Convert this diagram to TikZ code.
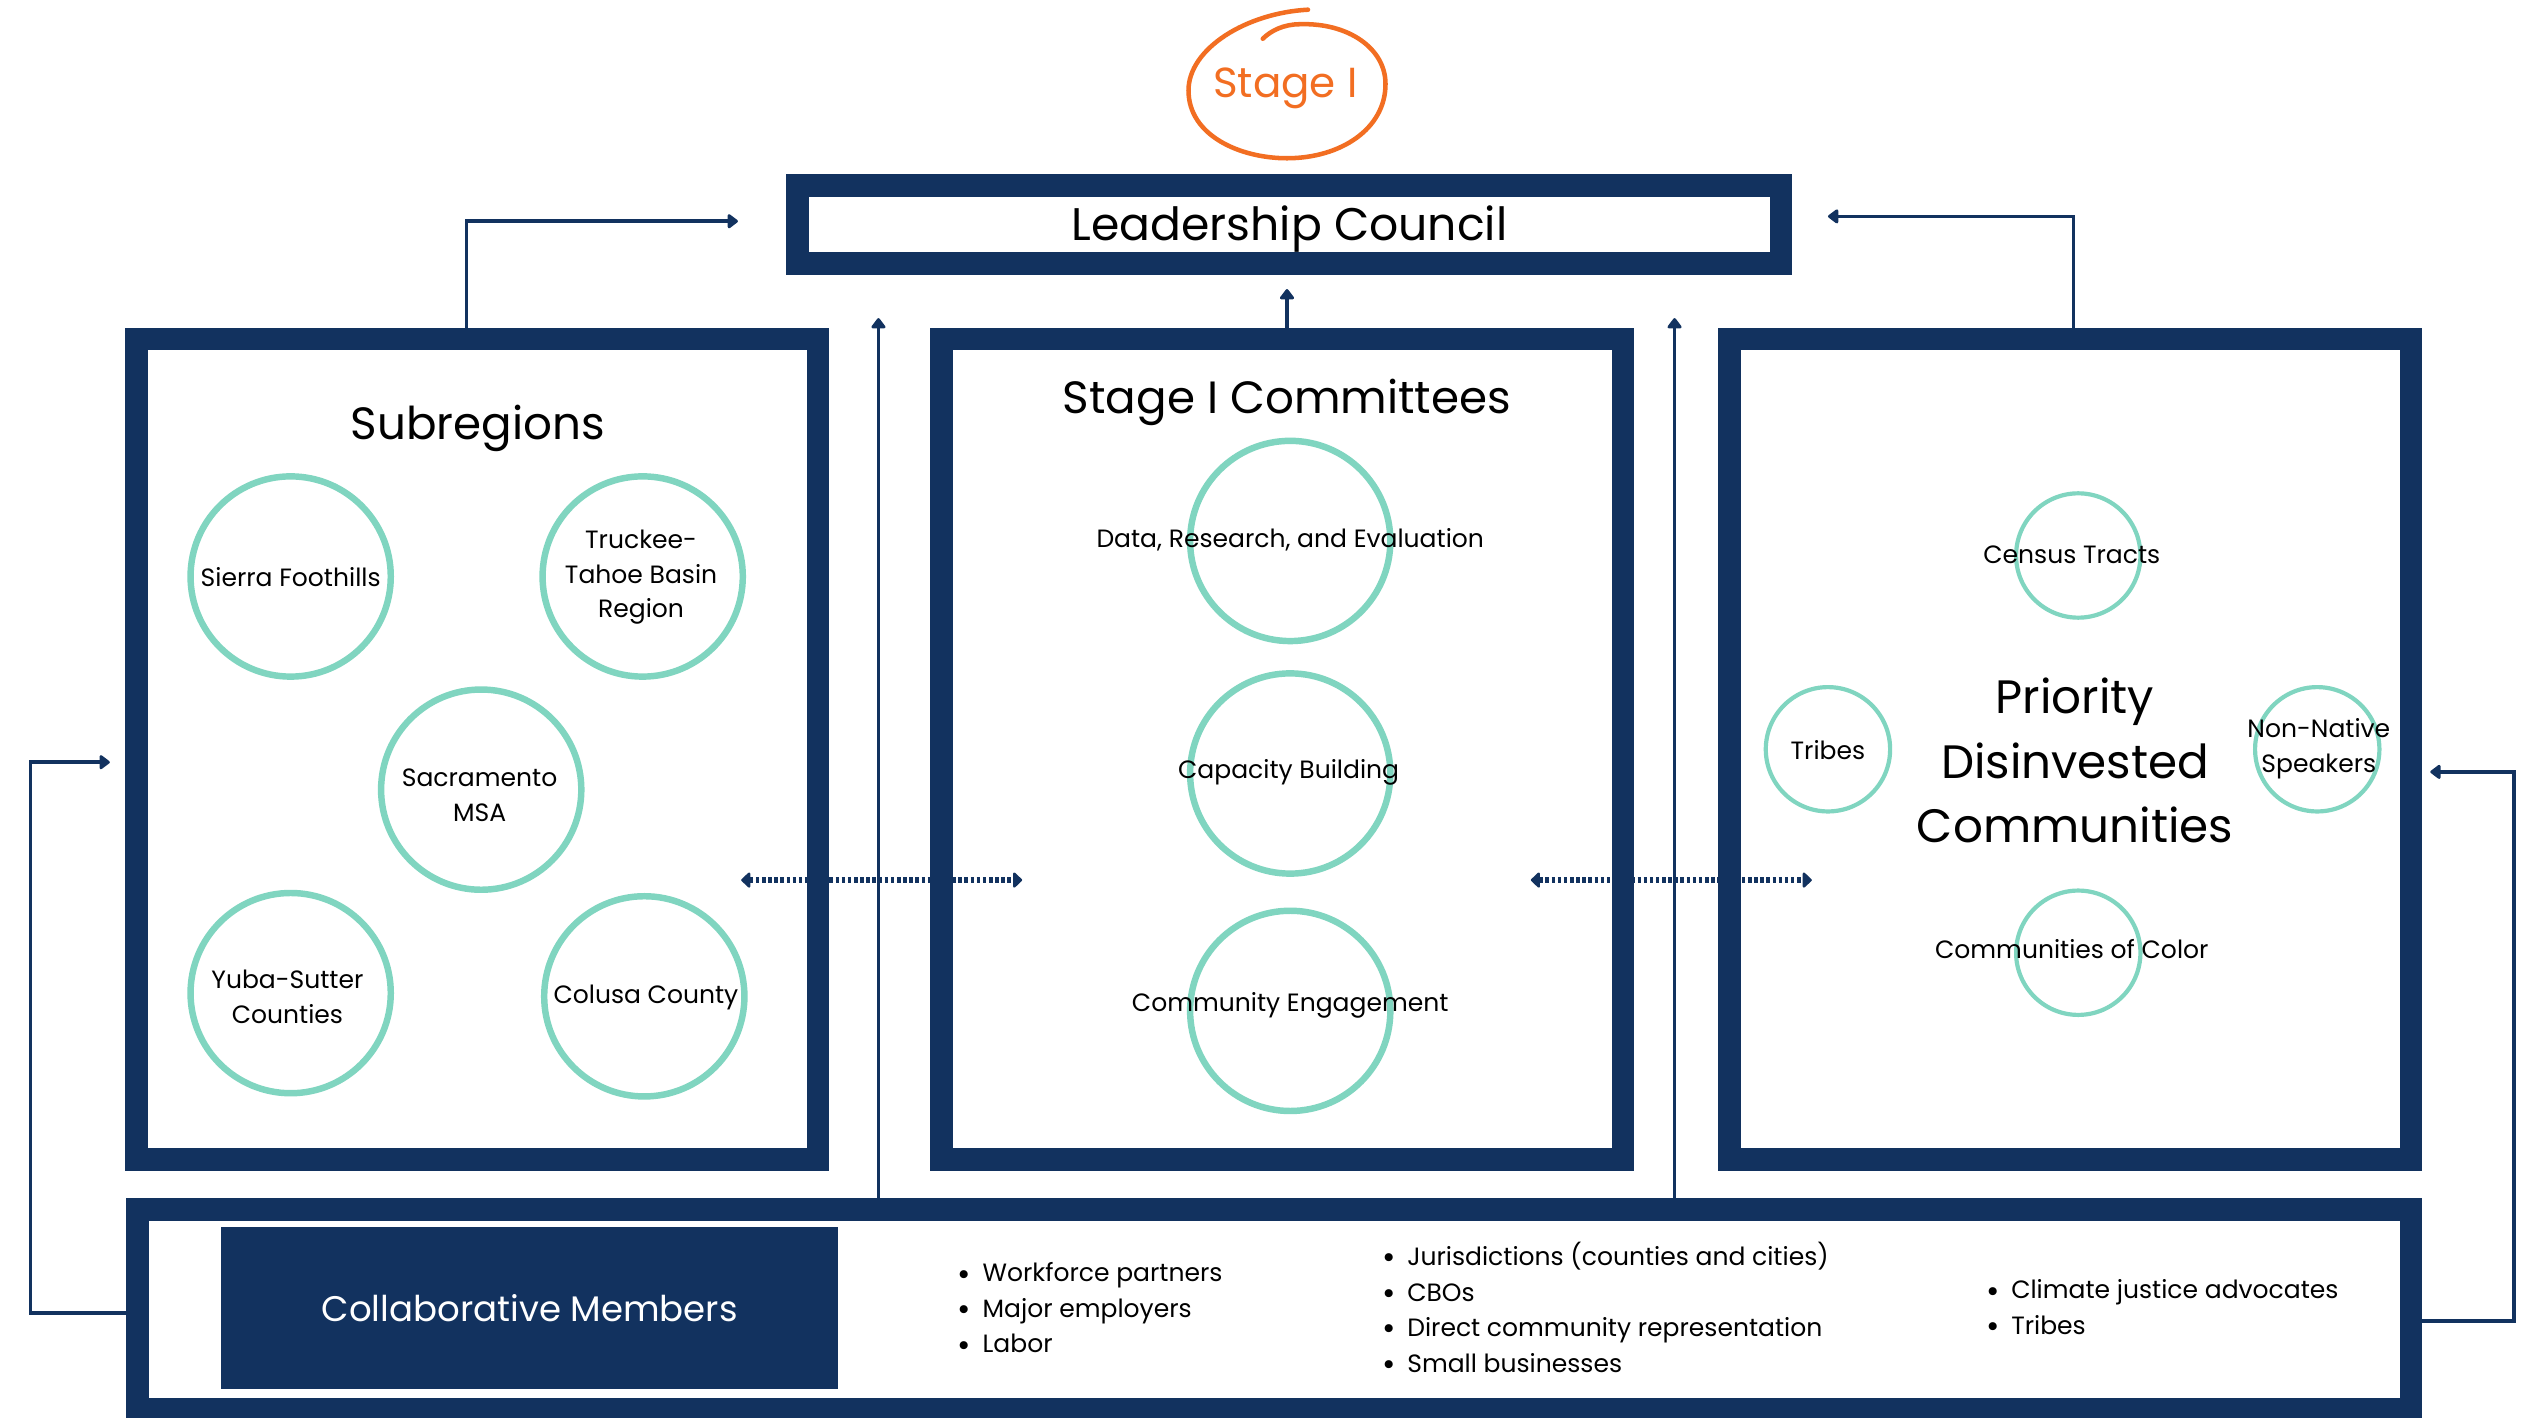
\documentclass[tikz,border=0pt]{standalone}
\usepackage{fontspec}
\setmainfont{Poppins}
\usetikzlibrary{arrows.meta}
\definecolor{navy}{HTML}{12325F}
\definecolor{teal}{HTML}{80D5C0}
\definecolor{orng}{HTML}{F26E22}
\newcommand{\bul}{\raisebox{-0.25ex}{\scalebox{1.3}{•}}\hspace{7pt}}
\tikzset{
  bigbox/.style={draw=navy, line width=14pt, inner sep=0pt, minimum width=422pt, minimum height=508pt},
  ring/.style={draw=teal, line width=4pt, circle, inner sep=0pt, minimum size=124pt},
  smallring/.style={draw=teal, line width=2.6pt, circle, inner sep=0pt, minimum size=77pt},
  small/.style={font=\fontsize{15.5}{21.5}\selectfont, align=center, inner sep=0pt, text=black, yshift=-0.5pt},
  title/.style={font=\fontsize{28}{40}\selectfont, align=center, inner sep=0pt, text=black, yshift=-3pt},
  conn/.style={draw=navy, line width=2.2pt, -{Triangle[length=7pt,width=10pt,round]}},
  dots/.style={draw=navy, line width=3.5pt, dash pattern=on 2.2pt off 1.6pt, {Triangle[length=6pt,width=11pt,round]}-{Triangle[length=6pt,width=11pt,round]}},
  listtext/.style={font=\fontsize{15.5}{22}\selectfont, align=left, inner sep=0pt, anchor=west, text=black, yshift=-0.5pt},
}
\begin{document}
\begin{tikzpicture}[x=1pt,y=-1pt]
\useasboundingbox (0,0) rectangle (1568,878);
\clip (0,0) rectangle (1568,878);
\fill[white] (0,0) rectangle (1568,878);

% Stage I hand-drawn ellipse
\draw[orng, line width=2.8pt, line cap=round] (810,6) .. controls (772,8) and (736,30) .. (736,56)
  .. controls (736,84) and (768,98) .. (797,98)
  .. controls (830,98) and (858,80) .. (858,52)
  .. controls (858,30) and (835,14) .. (805,15)
  .. controls (795,15) and (787,19) .. (782,24);
\node[font=\fontsize{26}{30}\selectfont, text=orng, inner sep=0pt, yshift=-3pt] (stage) at (796,52) {Stage I};

% Leadership council
\node[draw=navy, line width=14pt, inner sep=0pt, minimum width=609pt, minimum height=48pt] (lc) at (798.5,139) {};
\node[font=\fontsize{28.3}{34}\selectfont, inner sep=0pt, yshift=-3pt] (lct) at (798.5,139) {Leadership Council};

% Three main boxes
\node[bigbox] (sub) at (295.5,464) {};
\node[bigbox] (com) at (794,464) {};
\node[bigbox] (pri) at (1282,464) {};

% Bottom box
\node[draw=navy, line width=14pt, inner sep=0pt, minimum width=1408pt, minimum height=124pt] (bot) at (789,811) {};
\node[fill=navy, inner sep=0pt, minimum width=382pt, minimum height=100pt, text=white, font=\fontsize{22}{26}\selectfont] (cm) at (328,810) {Collaborative Members};

% Subregions
\node[title] (subt) at (296,262) {Subregions};
\node[ring] (c1) at (180,357) {};
\node[ring] (c2) at (398,357) {};
\node[ring] (c3) at (298,489) {};
\node[ring] (c4) at (180,615) {};
\node[ring] (c5) at (399,617) {};
\node[small] (t1) at (180,357) {Sierra Foothills};
\node[small] (t2) at (397,357) {Truckee-\\Tahoe Basin\\Region};
\node[small] (t3) at (297,492) {Sacramento\\MSA};
\node[small] (t4) at (178,617) {Yuba-Sutter\\Counties};
\node[small] (t5) at (400,617) {Colusa County};

% Committees
\node[title] (comt) at (797,246) {Stage I Committees};
\node[ring] (d1) at (799,335) {};
\node[ring] (d2) at (799,479) {};
\node[ring] (d3) at (799,626) {};
\node[small] (u1) at (799,334) {Data, Research, and Evaluation};
\node[small] (u2) at (798,478) {Capacity Building};
\node[small] (u3) at (799,622) {Community Engagement};

% Priority
\node[font=\fontsize{29}{40}\selectfont, align=center, inner sep=0pt, yshift=-2pt] (prit) at (1285,469) {Priority\\Disinvested\\Communities};
\node[smallring] (e1) at (1287,344) {};
\node[smallring] (e2) at (1132,464) {};
\node[smallring] (e3) at (1435,464) {};
\node[smallring] (e4) at (1287,590) {};
\node[small] (v1) at (1283,343) {Census Tracts};
\node[small] (v2) at (1132,464) {Tribes};
\node[small] (v3) at (1436,463) {Non-Native\\Speakers};
\node[small] (v4) at (1283,587) {Communities of Color};

% Lists
\node[listtext] (l1) at (593,810.5) {\bul Workforce partners\\\bul Major employers\\\bul Labor};
\node[listtext] (l2) at (856,810) {\bul Jurisdictions (counties and cities)\\\bul CBOs\\\bul Direct community representation\\\bul Small businesses};
\node[listtext] (l3) at (1230,810) {\bul Climate justice advocates\\\bul Tribes};

% Connectors
\coordinate (sa) at (289,137);
\coordinate (saend) at (457,137);
\draw[conn] (sub.north -| sa) -- (sa) -- (saend);
\coordinate (pa) at (1284,134);
\coordinate (paend) at (1132,134);
\draw[conn] (pri.north -| pa) -- (pa) -- (paend);
\coordinate (ca) at (797,179);
\draw[conn] (com.north -| ca) -- (ca);
\coordinate (va) at (544,197);
\coordinate (vb) at (1037,197);
\draw[conn] (bot.north -| va) -- (va);
\draw[conn] (bot.north -| vb) -- (vb);
\coordinate (la) at (19,813);
\coordinate (lb) at (19,472);
\coordinate (lend) at (68,472);
\draw[conn] (bot.west |- la) -- (la) -- (lb) -- (lend);
\coordinate (ra) at (1557,818);
\coordinate (rb) at (1557,478);
\coordinate (rend) at (1505,478);
\draw[conn] (bot.east |- ra) -- (ra) -- (rb) -- (rend);
\coordinate (da) at (459,545);
\coordinate (db) at (633,545);
\coordinate (dc) at (948,545);
\coordinate (dd) at (1122,545);
\draw[dots] (da) -- (db);
\draw[dots] (dc) -- (dd);
\end{tikzpicture}
\end{document}
